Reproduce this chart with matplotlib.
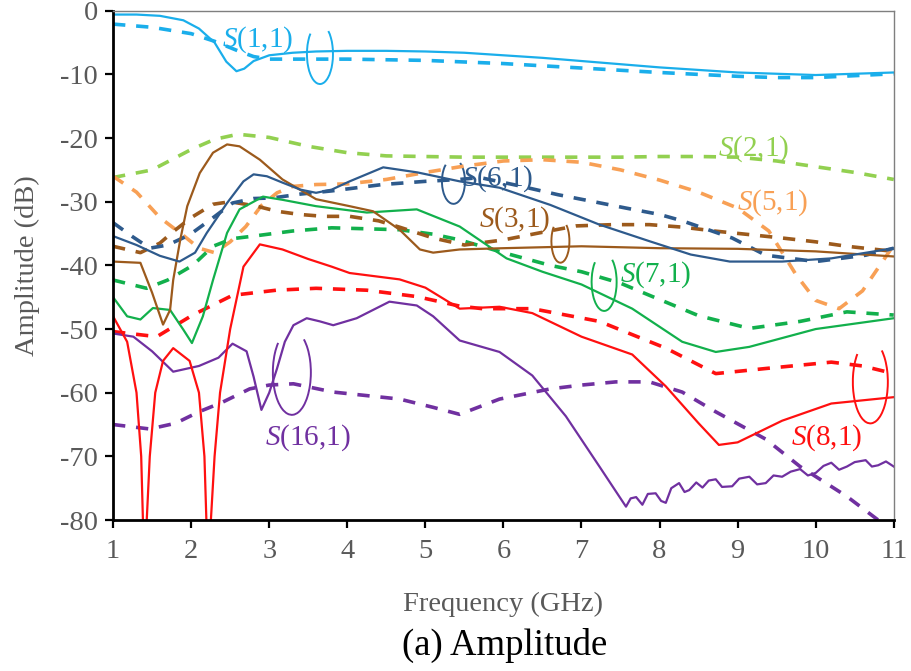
import matplotlib
matplotlib.use("Agg")
import matplotlib.pyplot as plt
from matplotlib.patches import Arc
from matplotlib.transforms import ScaledTranslation

plt.rcParams["font.family"] = ["Liberation Serif", "DejaVu Serif"]
plt.rcParams["mathtext.fontset"] = "custom"
plt.rcParams["mathtext.it"] = "Liberation Serif:italic"
plt.rcParams["mathtext.rm"] = "Liberation Serif"
plt.rcParams["axes.unicode_minus"] = False

# ---- data (GHz, dB) ----
s11_x = [1.0, 1.3, 1.6, 1.9, 2.1, 2.3, 2.45, 2.58, 2.68, 2.8, 3.0, 3.3, 3.6, 4.0, 4.5, 5.0, 5.5, 6.0,
         6.5, 7.0, 7.5, 8.0, 8.5, 9.0, 9.5, 10.0, 10.5, 11.0]
s11_y = [-0.6, -0.6, -0.8, -1.5, -2.8, -5.0, -8.0, -9.5, -9.1, -7.9, -7.0, -6.6, -6.4, -6.3, -6.3, -6.4,
         -6.6, -7.0, -7.4, -7.9, -8.4, -8.9, -9.3, -9.7, -9.9, -10.1, -9.9, -9.7]
s11d_x = [1.0, 1.5, 2.0, 2.3, 2.6, 2.8, 3.0, 3.5, 4.0, 5.0, 6.0, 7.0, 8.0, 9.0, 9.5, 10.0, 10.5, 11.0]
s11d_y = [-2.1, -2.6, -3.6, -4.8, -6.3, -7.2, -7.6, -7.6, -7.6, -7.8, -8.3, -9.0, -9.7, -10.3, -10.5,
          -10.5, -10.2, -9.9]

s21d_x = [1, 1.5, 2, 2.3, 2.6, 3, 3.5, 4, 4.5, 5, 5.5, 6, 6.5, 7, 7.5, 8, 8.5, 9, 9.5, 10, 10.5, 11]
s21d_y = [-26.2, -25.0, -21.8, -20.2, -19.4, -19.9, -21.3, -22.3, -22.8, -22.9, -23, -23, -23, -23, -23,
          -22.9, -22.9, -23, -23.6, -24.5, -25.4, -26.5]

s51d_x = [1, 1.3, 1.6, 1.9, 2.1, 2.3, 2.5, 2.7, 2.9, 3.1, 3.3, 3.6, 4.0, 4.5, 5.0, 5.5, 6.0, 6.5, 7.0,
          7.5, 8.0, 8.5, 9.0, 9.4, 9.75, 10.0, 10.3, 10.6, 10.8, 11.0]
s51d_y = [-26.0, -28.5, -32.5, -35.3, -37.3, -38.0, -36.3, -33.9, -30.6, -28.6, -27.6, -27.3, -27.2,
          -26.5, -25.4, -24.4, -23.6, -23.4, -23.8, -25.0, -26.6, -28.5, -31.0, -34.6, -41.5, -45.5,
          -46.8, -44.0, -40.4, -36.8]

s61_x = [1, 1.3, 1.6, 1.85, 2.05, 2.2, 2.46, 2.67, 2.8, 2.97, 3.17, 3.4, 3.6, 3.8, 4.03, 4.46, 4.9,
         5.44, 5.95, 6.6, 7.23, 7.87, 8.4, 8.9, 9.57, 10.2, 11]
s61_y = [-35.4, -36.8, -38.5, -39.4, -38.0, -34.9, -30.2, -26.8, -25.7, -26.0, -27.0, -28.1, -28.6,
         -28.1, -26.8, -24.6, -25.4, -26.8, -27.8, -30.5, -33.6, -36.2, -38.3, -39.4, -39.4, -38.9, -37.3]
s61d_x = [1, 1.25, 1.47, 1.7, 1.98, 2.25, 2.53, 2.8, 3.05, 3.4, 3.8, 4.45, 5.0, 5.44, 5.7, 6.2, 6.7,
          7.2, 7.57, 8.0, 8.29, 8.6, 8.93, 9.36, 10.0, 10.64, 11]
s61d_y = [-33.3, -35.5, -37.3, -36.8, -35.2, -32.8, -30.2, -29.5, -29.4, -28.8, -28.3, -27.3, -26.8,
          -26.5, -26.2, -27.5, -28.9, -30.1, -31, -32, -33, -34.3, -35.7, -38.4, -39.4, -38.4, -37.3]

s31_x = [1, 1.35, 1.5, 1.64, 1.73, 1.77, 1.86, 1.95, 2.11, 2.28, 2.46, 2.62, 2.88, 3.17, 3.6, 4.03,
         4.33, 4.67, 4.93, 5.1, 5.44, 6, 7, 8, 9, 10, 11]
s31_y = [-39.4, -39.6, -44.3, -49.3, -47, -42.3, -36, -30.7, -25.5, -22.3, -21, -21.3, -23.4, -26.5,
         -29.6, -30.7, -31.5, -34.4, -37.5, -38, -37.5, -37.3, -37.0, -37.3, -37.4, -37.8, -38.6]
s31d_x = [1, 1.35, 1.6, 1.77, 2.0, 2.28, 2.5, 2.84, 3.1, 3.39, 3.7, 4.03, 4.4, 4.67, 5.1, 5.5, 6.0,
          6.5, 6.93, 7.4, 7.87, 8.3, 8.7, 9.1, 9.57, 10.0, 10.4, 11]
s31d_y = [-37, -38, -36.5, -34.7, -32.5, -30.4, -30, -30.7, -31.5, -32, -32.3, -32.3, -33, -34, -35.7,
          -36.8, -36, -34.8, -33.8, -33.6, -33.6, -34, -34.6, -35.1, -35.7, -36.3, -37, -37.8]

s71_x = [1, 1.18, 1.35, 1.51, 1.73, 1.9, 2.01, 2.15, 2.28, 2.46, 2.62, 2.92, 3.17, 3.6, 4.25, 4.89,
         5.44, 6.04, 6.5, 7.0, 7.65, 8.29, 8.72, 9.15, 10, 11]
s71_y = [-45, -48, -48.5, -46.7, -47, -50.1, -52.2, -48, -42.3, -34.9, -31.2, -29.2, -29.7, -30.7,
         -31.7, -31.2, -33.9, -38.9, -41, -43, -46.8, -52, -53.6, -52.8, -50, -48.3]
s71d_x = [1, 1.43, 1.7, 2.02, 2.28, 2.53, 2.8, 3.3, 3.8, 4.67, 5.1, 5.44, 6.0, 6.6, 7.0, 7.5, 7.87,
          8.5, 9.15, 9.8, 10.4, 11]
s71d_y = [-42.3, -43.6, -42.3, -40, -37, -35.8, -35.4, -34.6, -34.1, -34.4, -35.1, -36, -38, -40, -41,
          -42.8, -44.7, -47.9, -49.9, -48.8, -47.3, -47.8]

s81_x = [1, 1.18, 1.3, 1.36, 1.40, 1.47, 1.54, 1.64, 1.77, 1.98, 2.1, 2.17, 2.215, 2.3, 2.37, 2.5,
         2.67, 2.88, 3.17, 3.5, 3.8, 4.03, 4.67, 5.0, 5.44, 5.95, 6.37, 7.0, 7.65, 8.08, 8.5, 8.76, 9.0,
         9.57, 10.2, 11]
s81_y = [-48, -52, -60, -70, -88, -70, -60, -55, -53, -55, -60, -70, -88, -70, -60, -50, -40.2, -36.7,
         -37.5, -39, -40.2, -41.2, -42.2, -43.5, -46.8, -46.5, -47.5, -51.2, -54, -59, -64.8, -68.2,
         -67.8, -64.4, -61.7, -60.7]
s81d_x = [1, 1.56, 2.02, 2.53, 3.09, 3.6, 4.25, 4.89, 5.44, 5.73, 6.37, 7.23, 8.08, 8.72, 9.36, 10.2,
          10.6, 11]
s81d_y = [-50.4, -51.2, -47.8, -44.7, -43.9, -43.6, -43.9, -44.9, -46.4, -46.8, -46.8, -48.8, -53, -57,
          -56.2, -55.2, -55.8, -57]

s161_x = [1, 1.26, 1.5, 1.77, 2.1, 2.35, 2.53, 2.71, 2.8, 2.9, 3.0, 3.1, 3.2, 3.31, 3.48, 3.65, 3.82,
          4.12, 4.54, 4.89, 5.1, 5.44, 5.95, 6.37, 6.8, 7.23, 7.57, 7.63, 7.7, 7.78, 7.85, 7.95, 8.02,
          8.08, 8.15, 8.25, 8.32, 8.38, 8.47, 8.55, 8.63, 8.72, 8.8, 8.93, 9.02, 9.15, 9.25, 9.36, 9.46,
          9.57, 9.68, 9.8, 9.9, 10.0, 10.1, 10.2, 10.3, 10.4, 10.5, 10.64, 10.72, 10.8, 10.9, 11.0]
s161_y = [-50.7, -51.2, -53.5, -56.7, -55.8, -54.5, -52.3, -53.5, -57.5, -62.7, -60, -56.2, -52, -49.4,
          -48.3, -48.8, -49.4, -48.3, -45.7, -46.3, -48, -51.8, -53.6, -57.3, -63.7, -71.6, -77.9, -76.6,
          -76.4, -77.6, -75.9, -75.8, -77.0, -77.3, -75.0, -74.2, -75.6, -75.3, -74.1, -74.9, -73.8, -73.6,
          -74.8, -74.7, -73.5, -73.2, -74.4, -74.2, -73.0, -73.2, -72.4, -72.0, -73.0, -72.6, -71.5, -71.0,
          -72.1, -71.6, -70.9, -70.6, -71.6, -71.4, -70.8, -71.6]
s161d_x = [1, 1.47, 1.8, 2.1, 2.4, 2.75, 3.0, 3.31, 3.82, 4.67, 5.1, 5.44, 5.95, 6.6, 7.0, 7.44, 7.87,
           8.29, 8.72, 9.36, 9.8, 10.4, 10.8, 11]
s161d_y = [-65, -65.7, -64.8, -63, -61.5, -59.4, -58.8, -58.6, -59.9, -61, -62.3, -63.4, -61, -59.4,
           -58.8, -58.3, -58.3, -59.9, -63, -67.3, -71.6, -76.3, -80, -82]

C_S11 = "#1AAEEB"
C_S21 = "#92D050"
C_S31 = "#9C5A1C"
C_S51 = "#F8A055"
C_S61 = "#2E5A8C"
C_S71 = "#12B04C"
C_S81 = "#FF1010"
C_S161 = "#7030A0"

fig = plt.figure(figsize=(9.12, 6.71), dpi=100)
ax = fig.add_axes([0.124, 0.225, 0.856, 0.759])

dash = (0, (3.4, 3.0))
LW = 1.6
LWD = 2.6

ax.plot(s21d_x, s21d_y, color=C_S21, lw=LWD, ls=dash)
ax.plot(s51d_x, s51d_y, color=C_S51, lw=LWD, ls=dash)
ax.plot(s161d_x, s161d_y, color=C_S161, lw=LWD, ls=dash)
ax.plot(s81d_x, s81d_y, color=C_S81, lw=LWD, ls=dash)
ax.plot(s71d_x, s71d_y, color=C_S71, lw=LWD, ls=dash)
ax.plot(s31d_x, s31d_y, color=C_S31, lw=LWD, ls=dash)
ax.plot(s61d_x, s61d_y, color=C_S61, lw=LWD, ls=dash)
ax.plot(s11d_x, s11d_y, color=C_S11, lw=LWD, ls=dash)

ax.plot(s161_x, s161_y, color=C_S161, lw=LW)
ax.plot(s81_x, s81_y, color=C_S81, lw=LW)
ax.plot(s71_x, s71_y, color=C_S71, lw=LW)
ax.plot(s31_x, s31_y, color=C_S31, lw=LW)
ax.plot(s61_x, s61_y, color=C_S61, lw=LW)
ax.plot(s11_x, s11_y, color=C_S11, lw=LW)

# curve labels
labels = [
    ("(1,1)", 2.85, -4.6, C_S11),
    ("(6,1)", 5.93, -26.4, C_S61),
    ("(3,1)", 6.14, -32.8, C_S31),
    ("(7,1)", 7.95, -41.4, C_S71),
    ("(2,1)", 9.2, -21.6, C_S21),
    ("(5,1)", 9.45, -30.2, C_S51),
    ("(16,1)", 3.49, -67.0, C_S161),
    ("(8,1)", 10.14, -67.0, C_S81),
]
for txt, lx, ly, col in labels:
    ax.text(lx, ly, r"$\mathit{S}$" + txt, color=col, fontsize=21,
            ha="center", va="center")

# loop markers: centre in data units, size in inches
loops = [
    (3.65, -6.8, 0.26, 0.60, C_S11),
    (5.36, -26.8, 0.23, 0.45, C_S61),
    (6.73, -36.2, 0.18, 0.43, C_S31),
    (7.29, -42.6, 0.25, 0.58, C_S71),
    (10.7, -58.3, 0.35, 0.83, C_S81),
    (3.29, -56.8, 0.38, 0.85, C_S161),
]
for cx, cy, w, h, col in loops:
    tr = fig.dpi_scale_trans + ScaledTranslation(cx, cy, ax.transData)
    ax.add_patch(Arc((0, 0), w, h, theta1=115, theta2=70, color=col, lw=1.4,
                     transform=tr, clip_on=False))

ax.set_xlim(1, 11)
ax.set_ylim(-80, 0)
ax.set_xticks(range(1, 12))
ax.set_yticks(range(-80, 1, 10))

grey = "#595959"
ax.tick_params(axis="both", direction="out", length=6, width=1.6, colors="black",
               labelcolor=grey, labelsize=20.5, pad=5)
ax.tick_params(axis="x", pad=8)
for side in ("left", "bottom"):
    ax.spines[side].set_linewidth(2.0)
    ax.spines[side].set_color("black")
for side in ("top", "right"):
    ax.spines[side].set_linewidth(1.0)
    ax.spines[side].set_color("#7f7f7f")

ax.set_xlabel("Frequency (GHz)", fontsize=20.5, color=grey, labelpad=20)
ax.set_ylabel("Amplitude (dB)", fontsize=20.5, color=grey, labelpad=14)

fig.text(0.553, 0.038, "(a) Amplitude", fontsize=26.5, color="black", ha="center", va="center")

fig.savefig("out.png", dpi=100)
